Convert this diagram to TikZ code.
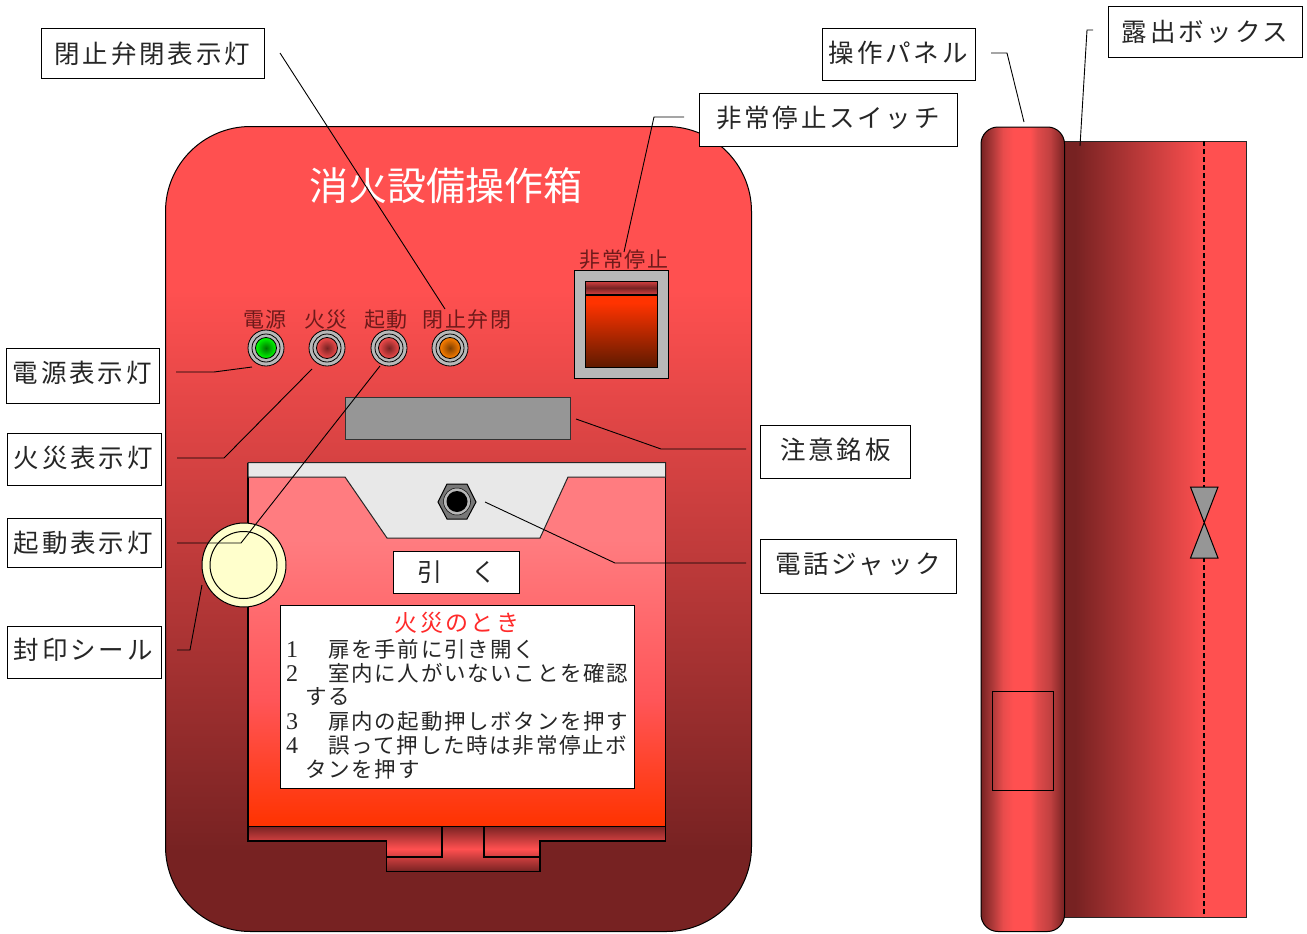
\documentclass[tikz,border=0pt]{standalone}
\usepackage{fontspec}
\setmainfont{Noto Sans CJK JP}
\newfontfamily\digitfont{Liberation Serif}
\usetikzlibrary{shapes.geometric}
\definecolor{rd}{HTML}{FF5050}
\definecolor{drd}{HTML}{772222}
\definecolor{frd}{HTML}{FF3300}
\definecolor{pnk}{HTML}{FF7C80}
\definecolor{crm}{HTML}{FFFFCC}
\definecolor{lg}{HTML}{E8E8E8}
\definecolor{gr}{HTML}{969696}
\definecolor{sg}{HTML}{B8B8B8}
\definecolor{ink}{HTML}{262626}
\definecolor{dink}{HTML}{6E1A1A}
\definecolor{dmid}{HTML}{FF5558}
\definecolor{swd}{HTML}{5E1A00}
\definecolor{pa}{HTML}{B03A3A}
\definecolor{pb}{HTML}{E84C4C}
\definecolor{pc}{HTML}{E04A4A}
\definecolor{pd}{HTML}{C04040}
\definecolor{redt}{HTML}{FF2A2A}
\pgfdeclareverticalshading{bodyshade}{100bp}{color(0bp)=(drd); color(30bp)=(drd); color(64.8bp)=(rd); color(100bp)=(rd)}
\pgfdeclareverticalshading{doorshade}{100bp}{color(0bp)=(frd); color(25bp)=(frd); color(43bp)=(dmid); color(66bp)=(pnk); color(100bp)=(pnk)}
\pgfdeclareverticalshading{switchshade}{100bp}{color(0bp)=(swd); color(25bp)=(swd); color(69.5bp)=(frd); color(100bp)=(frd)}
\pgfdeclarehorizontalshading{panelshade}{100bp}{color(0bp)=(drd); color(25bp)=(drd); color(32.2bp)=(pa); color(38.2bp)=(pb); color(44.3bp)=(rd); color(54.5bp)=(rd); color(58.7bp)=(pc); color(66.5bp)=(pd); color(75bp)=(drd); color(100bp)=(drd)}
\pgfdeclarehorizontalshading{sideshade}{100bp}{color(0bp)=(drd); color(28bp)=(drd); color(63.7bp)=(rd); color(100bp)=(rd)}
\tikzset{x=1pt,y=-1pt,
 lbl/.style={draw=black,fill=white,line width=1pt,inner sep=0pt,text=ink,font=\fontsize{25.5}{25.5}\selectfont\addfontfeature{LetterSpace=11}},
 lead/.style={draw=black,line width=.9pt},
 ln/.style={draw=black,line width=1.1pt},
 small/.style={font=\fontsize{21}{21}\selectfont\addfontfeature{LetterSpace=8},text=dink,inner sep=0pt},
 instr/.style={anchor=west,inner sep=0pt,text=ink,font=\fontsize{21.5}{21.5}\selectfont\addfontfeature{LetterSpace=8}}}
\newcommand{\lamp}[3]{%
 \path[draw=black,line width=.8pt,fill=sg] (#1,348) circle (18);
 \path[draw=black,line width=.8pt,fill=sg] (#1,348) circle (14);
 \path[draw=black,line width=.8pt,inner color=#3,outer color=#2] (#1,348) circle (10.5);}
\newcommand{\itemline}[2]{\makebox[42pt][l]{\fontsize{24}{24}\digitfont\selectfont #1}#2}
% text lifted by #1 pt above the centre of its node
\newcommand{\lb}[2]{\raisebox{0pt}[\dimexpr 29.5pt-#1pt\relax][\dimexpr 10.5pt+#1pt\relax]{#2}}
\begin{document}
\begin{tikzpicture}
\useasboundingbox (0,0) rectangle (1307,934);
% front box
\path[draw=black,line width=1pt,shading=bodyshade,rounded corners=85pt] (165.5,126.5) rectangle (751.5,931.5);
\node[text=white,inner sep=0pt,font=\fontsize{39}{39}\selectfont] (title) at (446,186) {消火設備操作箱};
% small labels
\node[small] (l1) at (265,319.5) {電源};
\node[small] (l2) at (326,319.5) {火災};
\node[small] (l3) at (386,319.5) {起動};
\node[small] (l4) at (467,319.5) {閉止弁閉};
\node[small] (l5) at (624,259.5) {非常停止};
\lamp{266}{green}{green!45!black}
\coordinate (lampA) at (252,367);
\lamp{327}{rd!95!black}{drd}
\coordinate (lampB) at (312,369);
\lamp{389}{rd!95!black}{drd}
\coordinate (lampC) at (380,366);
\lamp{450}{orange!100!yellow}{orange!50!black}
% emergency stop
\path[draw=black,line width=1pt,fill=sg] (574,270) rectangle (668,378);
\path[draw=black,line width=1pt,shading=switchshade] (585,295) rectangle (657,367.5);
\path[draw=black,line width=1pt,top color=rd!70!drd,bottom color=rd!70!drd,middle color=drd] (585,281) rectangle (657,294.5);
% plate
\path[draw=black!80,line width=1pt,fill=gr] (345.5,397) rectangle (570.5,439);
% door
\path[shading=doorshade] (248,477) rectangle (665.5,826);
% tabs below door
\path[top color=drd,bottom color=drd,middle color=rd] (248,826) -- (665.5,826) -- (665.5,841) -- (540,841) -- (540,871.5) -- (386.5,871.5) -- (386.5,841) -- (248,841) -- cycle;
\path[ln] (248,462.5) -- (248,841) -- (386.5,841) -- (386.5,871.5) -- (540,871.5) -- (540,841) -- (665.5,841) -- (665.5,462.5);
\path[ln] (442,826.5) -- (442,857) -- (386.5,857);
\path[ln] (484,826.5) -- (484,857) -- (540,857);
\path[draw=black,line width=.5pt] (248,826) -- (665.5,826);
% jack panel
\path[draw=black!85,line width=1pt,fill=lg] (248,477) -- (345,477) -- (387,538) -- (540,538) -- (568,477) -- (665.5,477) -- (665.5,462.5) -- (248,462.5) -- cycle;
\path[draw=black,line width=1pt,fill=gr!80!black] (438,502) -- (447,484) -- (467,484) -- (476,502) -- (467,519) -- (447,519) -- cycle;
\path[fill=sg,draw=black,line width=.5pt] (457,501.5) circle (13.5);
\path[fill=black] (457,501.5) circle (10.5);
% pull label
\node[draw=black,fill=white,line width=1pt,inner sep=0pt,minimum width=126pt,minimum height=42pt,text=ink,font=\fontsize{25}{25}\selectfont\addfontfeature{LetterSpace=8}] (pull) at (456.5,572) {引　く};
% instructions
\node[draw=black,fill=white,line width=1pt,inner sep=0pt,minimum width=354pt,minimum height=183pt] (ins) at (457.5,697) {};
\node[text=redt,inner sep=0pt,font=\fontsize{23}{23}\selectfont\addfontfeature{LetterSpace=10}] (insT) at (457,623) {火災のとき};
\node[instr] (i1) at (286,649) {\itemline{1}{扉を手前に引き開く}};
\node[instr] (i2) at (286,673) {\itemline{2}{室内に人がいないことを確認}};
\node[instr] (i2b) at (305,697) {する};
\node[instr] (i3) at (286,721) {\itemline{3}{扉内の起動押しボタンを押す}};
\node[instr] (i4) at (286,745) {\itemline{4}{誤って押した時は非常停止ボ}};
\node[instr] (i4b) at (305,769) {タンを押す};
% seal
\path[draw=black,line width=1pt,fill=crm] (244,565) circle (42);
\path[draw=black,line width=1pt] (243.5,565) circle (33.5);
% side view
\path[draw=black!85,line width=1pt,shading=sideshade] (1064,141) rectangle (1246,917);
\path[draw=black,line width=1.1pt,dash pattern=on 5pt off 3pt] (1204,141) -- (1204,917);
\path[draw=black,line width=1pt,fill=gr] (1190.5,487) -- (1218,487) -- (1190.5,558) -- (1218,558) -- cycle;
\path[draw=black,line width=1pt,shading=panelshade,rounded corners=17pt] (981,127) rectangle (1064.5,931.5);
\path[draw=black,line width=1pt] (992,691.5) rectangle (1053,790);
% labels
\node[lbl,minimum width=223pt,minimum height=50pt] (bv) at (153,54) {\lb{0}{\kern-1.5pt 閉止弁閉表示灯}};
\node[lbl,minimum width=153pt,minimum height=55pt] (pw) at (83,376) {\lb{3}{\kern-1.5pt 電源表示灯}};
\node[lbl,minimum width=154pt,minimum height=52pt] (fi) at (84,459) {\lb{1}{\kern-1.5pt 火災表示灯}};
\node[lbl,minimum width=154pt,minimum height=49pt] (st) at (84,543) {\lb{0}{\kern-1.5pt 起動表示灯}};
\node[lbl,minimum width=154pt,minimum height=52pt] (se) at (84,652) {\lb{2}{\kern-1.5pt 封印シール}};
\node[lbl,minimum width=258pt,minimum height=52pt] (es) at (828,120) {\lb{2}{非常停止スイッチ}};
\node[lbl,minimum width=150pt,minimum height=53pt] (ca) at (835.5,452) {\lb{2}{注意銘板}};
\node[lbl,minimum width=196pt,minimum height=54pt] (te) at (858,566.5) {\lb{2.5}{電話ジャック}};
\node[lbl,minimum width=153pt,minimum height=52pt] (op) at (899,55) {\lb{2}{\kern-1.5pt 操作パネル}};
\node[lbl,minimum width=194pt,minimum height=51pt] (ex) at (1205,32) {\lb{0}{露出ボックス}};
% leaders
\coordinate (a1) at (280,53);\coordinate (a2) at (445,309);
\draw[lead] (a1) -- (a2);
\coordinate (b1) at (684,117);\coordinate (b2) at (654,117);\coordinate (b3) at (624,252);
\draw[lead] (b1) -- (b2) -- (b3);
\coordinate (c1) at (176,372);\coordinate (c2) at (214,372);
\draw[lead] (c1) -- (c2) -- (lampA);
\coordinate (d1) at (177,458);\coordinate (d2) at (224,458);
\draw[lead] (d1) -- (d2) -- (lampB);
\coordinate (e1) at (177,543);\coordinate (e2) at (241,543);
\draw[lead] (e1) -- (e2) -- (lampC);
\coordinate (f1) at (177,650);\coordinate (f2) at (190,650);\coordinate (f3) at (202,585);
\draw[lead] (f1) -- (f2) -- (f3);
\coordinate (g1) at (576,419);\coordinate (g2) at (661,449);\coordinate (g3) at (746,449);
\draw[lead] (g1) -- (g2) -- (g3);
\coordinate (h1) at (485,502);\coordinate (h2) at (615,563);\coordinate (h3) at (746,563);
\draw[lead] (h1) -- (h2) -- (h3);
\coordinate (j1) at (991,53);\coordinate (j2) at (1007,53);\coordinate (j3) at (1024,122);
\draw[lead] (j1) -- (j2) -- (j3);
\coordinate (k1) at (1093,30);\coordinate (k2) at (1087,30);\coordinate (k3) at (1080,146);
\draw[lead] (k1) -- (k2) -- (k3);
\end{tikzpicture}
\end{document}
